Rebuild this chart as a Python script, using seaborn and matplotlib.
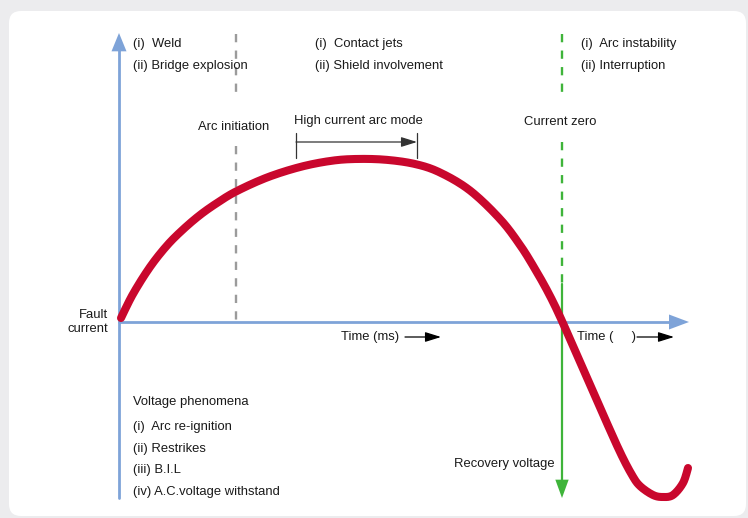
import matplotlib
matplotlib.use("Agg")
import matplotlib.pyplot as plt
from matplotlib.patches import FancyBboxPatch
import seaborn as sns
import numpy as np
import pandas as pd

sns.set_theme(style="white")
plt.rcParams['font.family'] = ['Liberation Sans', 'DejaVu Sans']

# ---- data (diagram units = pixel positions) ----
curve_x = [121, 133, 150, 167, 183, 200, 217, 236, 267, 300, 330, 355, 385, 415,
           440, 470, 500, 520, 535, 549, 562, 583, 602, 620, 632, 640, 653, 663,
           673, 683, 688]
curve_y = [318, 294, 267, 245.5, 229.5, 215, 203, 191.5, 177.5, 167, 161, 159,
           159.7, 164, 172.5, 190.5, 219, 245, 269, 294, 321, 369, 412, 452, 475,
           486, 495, 497, 495, 483, 468]

top_left_labels = ["(i)  Weld", "(ii) Bridge explosion"]
top_mid_labels = ["(i)  Contact jets", "(ii) Shield involvement"]
top_right_labels = ["(i)  Arc instability", "(ii) Interruption"]
voltage_title = "Voltage phenomena"
voltage_labels = ["(i)  Arc re-ignition", "(ii) Restrikes", "(iii) B.I.L",
                  "(iv) A.C.voltage withstand"]


def catmull_rom(xs, ys, n=16):
    """Smooth line rendering through the read points (spline line shape)."""
    p = np.column_stack([xs, ys]).astype(float)
    p = np.vstack([p[0], p, p[-1]])
    out = []
    for i in range(1, len(p) - 2):
        p0, p1, p2, p3 = p[i - 1], p[i], p[i + 1], p[i + 2]
        for s in np.linspace(0, 1, n, endpoint=False):
            s2, s3 = s * s, s * s * s
            out.append(0.5 * ((2 * p1) + (-p0 + p2) * s +
                              (2 * p0 - 5 * p1 + 4 * p2 - p3) * s2 +
                              (-p0 + 3 * p1 - 3 * p2 + p3) * s3))
    out.append(p[-2])
    out = np.array(out)
    return out[:, 0], out[:, 1]


sx, sy = catmull_rom(curve_x, curve_y)
df = pd.DataFrame({"t": sx, "i": sy})

W, H = 748, 518
fig = plt.figure(figsize=(W / 100, H / 100), dpi=100)
fig.patch.set_facecolor("#ececee")
ax = fig.add_axes([0, 0, 1, 1])

panel = FancyBboxPatch((9, 11), 737, 505, boxstyle="round,pad=0,rounding_size=12",
                       fc="white", ec="none", zorder=0)
ax.add_patch(panel)

blue = "#7ea3d8"
green = "#3fb43a"
grey = "#9b9b9b"
red = "#c9072d"
txt = "#1a1a1a"

# axes
ax.plot([119, 119], [44, 498], color=blue, lw=2.0, zorder=2)
ax.annotate("", xy=(119, 33), xytext=(119, 48),
            arrowprops=dict(arrowstyle="-|>,head_length=1.1,head_width=0.45",
                            color=blue, lw=0, shrinkA=0, shrinkB=0), zorder=2)
ax.plot([119, 674], [322, 322], color=blue, lw=2.0, zorder=2)
ax.annotate("", xy=(689, 322), xytext=(672, 322),
            arrowprops=dict(arrowstyle="-|>,head_length=1.2,head_width=0.45",
                            color=blue, lw=0, shrinkA=0, shrinkB=0), zorder=2)

# grey dashed (arc initiation)
for y0, y1 in [(34, 100), (146, 322)]:
    ax.plot([236, 236], [y0, y1], color=grey, lw=1.7, ls=(0, (3.5, 3.5)), zorder=1)

# green dashed + solid (current zero / recovery voltage)
for y0, y1 in [(34, 95), (142, 284)]:
    ax.plot([562, 562], [y0, y1], color=green, lw=1.7, ls=(0, (3.5, 3.5)), zorder=1)
ax.plot([562, 562], [284, 484], color=green, lw=1.6, zorder=1)
ax.annotate("", xy=(562, 498), xytext=(562, 480),
            arrowprops=dict(arrowstyle="-|>,head_length=1.1,head_width=0.4",
                            color=green, lw=0, shrinkA=0, shrinkB=0), zorder=2)

# red fault-current curve
sns.lineplot(data=df, x="t", y="i", ax=ax, color=red, lw=5.8, sort=False,
             estimator=None, zorder=5, solid_capstyle="round")

# high current arc mode bracket
ax.plot([296, 296], [133, 158], color="#333333", lw=0.9)
ax.plot([417, 417], [133, 158], color="#333333", lw=0.9)
ax.annotate("", xy=(417, 142), xytext=(296, 142),
            arrowprops=dict(arrowstyle="-|>,head_length=0.8,head_width=0.25",
                            color="#333333", lw=0.9, shrinkA=0, shrinkB=0))

# time arrows
for x0, x1 in [(405, 441), (637, 674)]:
    ax.annotate("", xy=(x1, 337), xytext=(x0, 337),
                arrowprops=dict(arrowstyle="-|>,head_length=0.8,head_width=0.25",
                                color="black", lw=0.9, shrinkA=0, shrinkB=0))

fs = 9.4
def t(x, y, s, ha="left"):
    ax.text(x, y, s, ha=ha, va="center", fontsize=fs, color=txt, zorder=6)

for k, s in enumerate(top_left_labels):
    t(133, 44 + 22 * k, s)
for k, s in enumerate(top_mid_labels):
    t(315, 44 + 22 * k, s)
for k, s in enumerate(top_right_labels):
    t(581, 44 + 22 * k, s)

t(234, 127, "Arc initiation", ha="center")
t(294, 121, "High current arc mode")
t(560, 122, "Current zero", ha="center")
ax.text(108, 322, "Fault\ncurrent", ha="right", va="center", fontsize=fs,
        color=txt, linespacing=1.15)
t(341, 337, "Time (ms)")
t(577, 337, "Time (     )")
t(454, 464, "Recovery voltage")
t(133, 402, voltage_title)
for k, s in enumerate(voltage_labels):
    t(133, 427 + 21.7 * k, s)

ax.set_xlim(0, W)
ax.set_ylim(H, 0)
ax.axis("off")

fig.savefig("out.png", dpi=100, facecolor=fig.get_facecolor())
